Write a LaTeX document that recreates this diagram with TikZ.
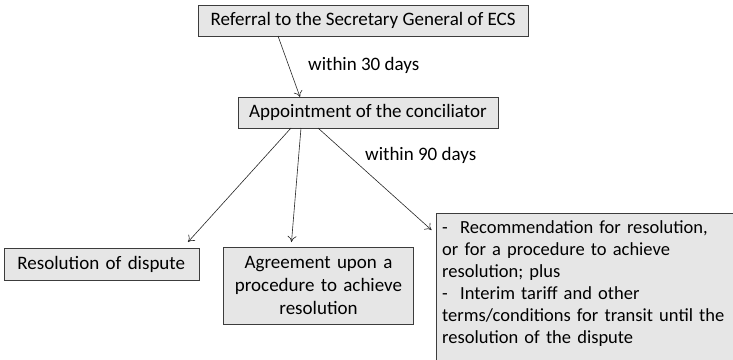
\documentclass[tikz,border=0pt]{standalone}
\usepackage{fontspec}
\setmainfont{Carlito}
\usetikzlibrary{arrows.meta}
\definecolor{boxfill}{RGB}{230,230,230}
\definecolor{boxline}{RGB}{60,60,60}
\tikzset{
  box/.style={draw=boxline, fill=boxfill, line width=0.8pt, inner sep=0pt, outer sep=0pt,
    font=\fontsize{19pt}{23pt}\selectfont},
  conn/.style={-{To[length=6pt,width=9pt]}, line width=0.6pt, draw=black!85},
  lbl/.style={font=\fontsize{19pt}{23pt}\selectfont, inner sep=0pt}
}
\begin{document}
\begin{tikzpicture}[x=1pt,y=1pt]
\useasboundingbox (0,0) rectangle (733,-359);
\clip (0,0) rectangle (733,-359);
\node[box, minimum width=330pt, minimum height=31pt] (b1) at (363,-20.5) {Referral to the Secretary General of ECS};
\node[box, minimum width=260pt, minimum height=31pt] (b2) at (368,-112.5) {Appointment of the conciliator};
\node[box, minimum width=195pt, minimum height=32pt, text width=186pt, align=left, inner xsep=0pt] (res) at (101.5,-264) {\hspace*{9pt}Resolution of dispute};
\node[box, minimum width=190pt, minimum height=77pt, text width=190pt, align=center] (agr) at (318.5,-285.5) {Agreement upon a\\procedure to achieve\\resolution};
\node[box, anchor=north west, minimum width=320pt, minimum height=160pt, text width=320pt, align=left, text depth=0pt] (rb) at (436.5,-213) {};
\node[anchor=north west, inner sep=0pt, text width=300pt, align=left, font=\fontsize{18.5pt}{22pt}\selectfont] (rbt) at ([xshift=5.5pt,yshift=-7pt]rb.north west) {-\ \ Recommendation for resolution,\\or for a procedure to achieve\\resolution; plus\\-\ \ Interim tariff and other\\terms/conditions for transit until the\\resolution of the dispute};
\node[lbl, anchor=west] (l30) at (308,-65) {within 30 days};
\node[lbl, anchor=west] (l90) at (365,-155) {within 90 days};
\draw[conn] ([xshift=80pt]b1.south west) -- ([xshift=62pt]b2.north west);
\draw[conn] ([xshift=53pt]b2.south west) -- ([xshift=-11pt,yshift=6pt]res.north east);
\draw[conn] ([xshift=63pt]b2.south west) -- ([xshift=68pt,yshift=5pt]agr.north west);
\draw[conn] ([xshift=80pt]b2.south west) -- ([xshift=-5pt,yshift=-17pt]rb.north west);
\end{tikzpicture}
\end{document}
